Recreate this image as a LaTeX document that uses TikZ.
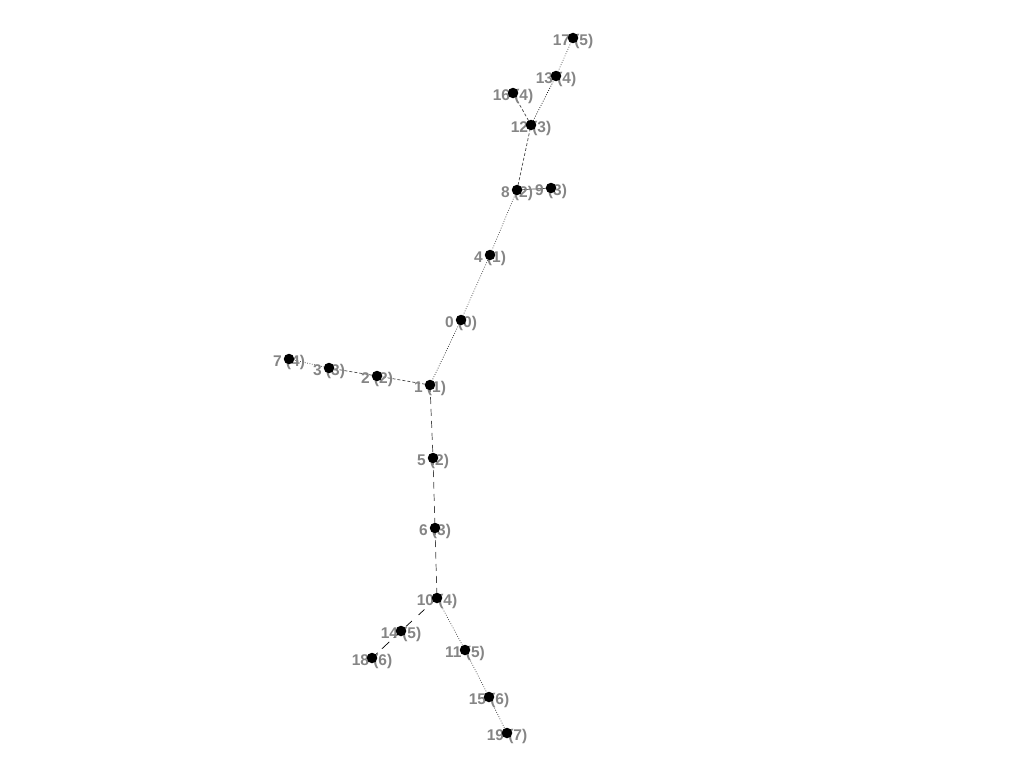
\documentclass[tikz,border=0pt]{standalone}
\usepackage{fontspec}
\setmainfont{Liberation Sans}
\begin{document}
\begin{tikzpicture}[x=1pt,y=-1pt,
  dotnode/.style={circle,fill=black,inner sep=0pt,minimum size=10.5pt},
  lab/.style={text=black!48,font=\fontsize{15.5}{15.5}\selectfont\bfseries,inner sep=0pt},
  edge/.style={line width=0.7pt,draw=black!72},
  dotd/.style={edge,dash pattern=on 0.8pt off 1.6pt},
  dashs/.style={edge,dash pattern=on 3pt off 2pt},
  dashl/.style={edge,dash pattern=on 7pt off 5pt},
  dashx/.style={edge,draw=black,dash pattern=on 8pt off 9pt}]
\useasboundingbox (0,0) rectangle (1024,768);
\foreach \n/\x/\y in {0/461/320,1/430/385,2/377/376,3/329/368,4/490/255,5/433/458,6/435/528,7/289/359,8/517/190,9/551/188,10/437/598,11/465/650,12/531/125,13/556/76,14/401/631,15/489/697,16/513/93,17/573/38,18/372/658,19/507/733}
  {\coordinate (c\n) at (\x,\y);}
% edges
\draw[dotd,draw=black!85] (c0) -- (c1);
\draw[dotd] (c0) -- (c4);
\draw[dotd] (c4) -- (c8);
\draw[edge] (c8) -- (c9);
\draw[dashs] (c8) -- (c12);
\draw[dotd,draw=black] (c12) -- (c13);
\draw[dotd] (c13) -- (c17);
\draw[dashs] (c12) -- (c16);
\draw[dashs] (c1) -- (c2);
\draw[dashs] (c2) -- (c3);
\draw[dotd] (c3) -- (c7);
\draw[dashl] (c1) -- (c5);
\draw[dashl] (c5) -- (c6);
\draw[dashl] (c6) -- (c10);
\draw[dashx] (c10) -- (c14);
\draw[dashx,dash pattern=on 10pt off 6pt] (c14) -- (c18);
\draw[dotd] (c10) -- (c11);
\draw[dotd] (c11) -- (c15);
\draw[dotd] (c15) -- (c19);
% labels
\foreach \n/\d in {0/0,1/1,2/2,3/3,4/1,5/2,6/3,7/4,8/2,9/3,10/4,11/5,12/3,13/4,14/5,15/6,16/4,17/5,18/6,19/7}
  {\node[lab] (l\n) at ([yshift=-3.5pt]c\n) {\n\ (\d)};}
% dots
\foreach \n in {0,...,19}
  {\node[dotnode] (d\n) at (c\n) {};}
\end{tikzpicture}
\end{document}
